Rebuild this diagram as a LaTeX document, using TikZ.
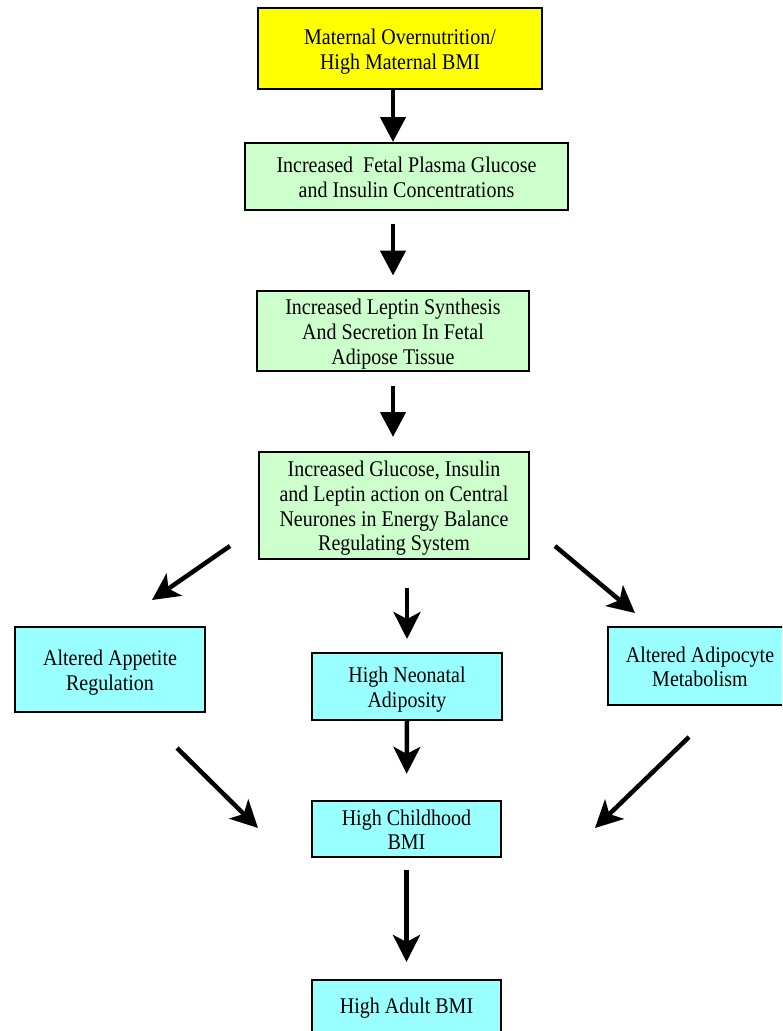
\documentclass[tikz,border=0pt]{standalone}
\usepackage{fontspec}
\setmainfont{Liberation Serif}
\usetikzlibrary{arrows.meta}
\definecolor{boxyellow}{HTML}{FFFF00}
\definecolor{boxgreen}{HTML}{CCFFCC}
\definecolor{boxcyan}{HTML}{99FFFF}
\newcommand\boxtext[1]{\raisebox{0pt}[\dimexpr\height+7pt\relax]{\scalebox{1}[1.12]{\begin{tabular}{@{}c@{}}#1\end{tabular}}}}
\begin{document}
\begin{tikzpicture}[x=1pt,y=-1pt,
  box/.style={draw=black,line width=2pt,inner sep=0pt,align=center,
    font=\fontsize{20}{22}\selectfont},
  ybox/.style={box,fill=boxyellow},
  gbox/.style={box,fill=boxgreen},
  cbox/.style={box,fill=boxcyan},
  tarr/.style={line width=4.5pt,-{Triangle[length=25pt,width=25pt]}},
  sarr/.style={line width=4.5pt,-{Stealth[length=27pt,width=27pt,inset=7pt]}}]
\useasboundingbox (0,0) rectangle (782,1031);
\clip (0,0) rectangle (782,1031);
\node[ybox,minimum width=284pt,minimum height=81pt] (b1) at (400,48.5)
  {\boxtext{Maternal Overnutrition/\\High Maternal BMI}};
\node[gbox,minimum width=323pt,minimum height=67pt] (b2) at (406.5,176.5)
  {\boxtext{Increased\ \ Fetal Plasma Glucose\\and Insulin Concentrations}};
\node[gbox,minimum width=272pt,minimum height=80pt] (b3) at (393,331)
  {\boxtext{Increased Leptin Synthesis\\And Secretion In Fetal\\Adipose Tissue}};
\node[gbox,minimum width=270pt,minimum height=107pt] (b4) at (394,505.5)
  {\boxtext{Increased Glucose, Insulin\\and Leptin action on Central\\Neurones in Energy Balance\\Regulating System}};
\node[cbox,minimum width=190pt,minimum height=85pt] (bL) at (110,669.5)
  {\boxtext{Altered Appetite\\Regulation}};
\node[cbox,minimum width=190pt,minimum height=67pt] (bM) at (407,686.5)
  {\boxtext{High Neonatal\\Adiposity}};
\node[cbox,minimum width=184pt,minimum height=78pt] (bR) at (700,666)
  {\boxtext{Altered Adipocyte\\Metabolism}};
\node[cbox,minimum width=189pt,minimum height=56pt] (bC) at (406.5,829)
  {\boxtext{High Childhood\\BMI}};
\node[cbox,minimum width=189pt,minimum height=64pt] (bA) at (406.5,1012)
  {\raisebox{0pt}[\height][\dimexpr\depth+13pt\relax]{\boxtext{High Adult BMI}}};
% free arrow ends
\coordinate (dl1) at (230,546);
\coordinate (dl2) at (152,600);
\coordinate (dr1) at (555,546);
\coordinate (dr2) at (635,613);
\coordinate (ll1) at (177,748);
\coordinate (ll2) at (258,828);
\coordinate (rl1) at (689,737);
\coordinate (rl2) at (595,828);
% connectors
\draw[tarr] (b1.south -| b3.center) -- (b2.north -| b3.center);
\draw[tarr,shorten <=13pt,shorten >=14pt] (b2.south -| b3.center) -- (b3.north);
\draw[tarr,shorten <=14pt,shorten >=14pt] (b3.south) -- (b4.north -| b3.center);
\draw[sarr] (dl1) -- (dl2);
\draw[sarr,shorten <=28pt,shorten >=13pt] (b4.south -| bM.center) -- (bM.north);
\draw[sarr] (dr1) -- (dr2);
\draw[sarr,shorten >=26pt] (bM.south) -- (bC.north);
\draw[sarr] (ll1) -- (ll2);
\draw[sarr] (rl1) -- (rl2);
\draw[sarr,shorten <=12pt,shorten >=17pt] (bC.south) -- (bA.north);
\end{tikzpicture}
\end{document}
